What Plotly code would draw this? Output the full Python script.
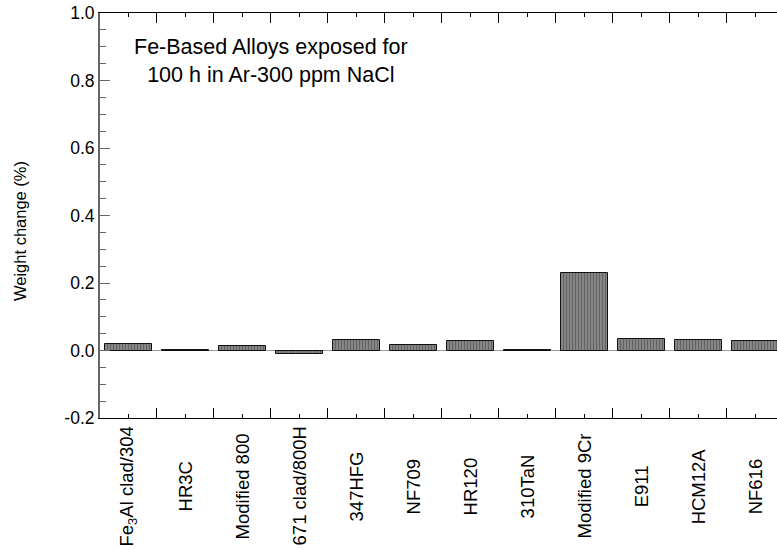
import plotly.graph_objects as go

alloys = ["Fe<sub>3</sub>Al clad/304", "HR3C", "Modified 800", "671 clad/800H", "347HFG",
          "NF709", "HR120", "310TaN", "Modified 9Cr", "E911", "HCM12A", "NF616"]
weight_change = [0.019, 0.002, 0.012, -0.010, 0.030, 0.017, 0.027, 0.001, 0.230, 0.033, 0.032, 0.028]
y_ticks = [-0.2, 0.0, 0.2, 0.4, 0.6, 0.8, 1.0]
y_ticktext = ["-0.2", "0.0", "0.2", "0.4", "0.6", "0.8", "1.0"]
y_title = "Weight change (%)"

xs = list(range(len(alloys)))
FONT = "Liberation Sans, Arial, sans-serif"

fig = go.Figure()
fig.add_trace(go.Bar(
    x=xs, y=weight_change, width=0.82,
    marker=dict(color="#7a7a7a",
                line=dict(color="#111111", width=1),
                pattern=dict(shape="|", bgcolor="#8c8c8c", fgcolor="#3a3a3a", size=3, solidity=0.45)),
    showlegend=False,
))

annotations = []
for i, name in enumerate(alloys):
    annotations.append(dict(x=i, y=0, xref="x", yref="paper", yshift=-68, text=name,
                            textangle=-90, showarrow=False, xanchor="center", yanchor="middle",
                            font=dict(family=FONT, size=18.5, color="black")))
annotations.append(dict(x=0.2526, y=0.882, xref="paper", yref="paper",
                        text="Fe-Based Alloys exposed for<br>100 h in Ar-300 ppm NaCl",
                        showarrow=False, align="center", xanchor="center", yanchor="middle",
                        font=dict(family=FONT, size=21.5, color="black")))
annotations.append(dict(x=-0.118, y=0.462, xref="paper", yref="paper", text=y_title,
                        textangle=-90, showarrow=False, xanchor="center", yanchor="middle",
                        font=dict(family=FONT, size=16.5, color="black")))

fig.update_layout(
    width=777, height=550,
    margin=dict(l=100, r=0, t=13, b=132, autoexpand=False),
    paper_bgcolor="white", plot_bgcolor="white",
    font=dict(family=FONT, color="black"),
    annotations=annotations,
    bargap=0,
)
fig.update_xaxes(
    range=[-0.5, 11.38], tickvals=xs, showticklabels=False,
    ticks="inside", ticklen=4, tickcolor="black", tickwidth=1,
    minor=dict(tick0=0.5, dtick=1, ticks="inside", ticklen=10, tickcolor="black", tickwidth=1),
    showline=True, linecolor="black", linewidth=1, mirror="ticks",
    showgrid=False, zeroline=False, automargin=False,
)
fig.update_yaxes(
    range=[-0.2, 1.0], tickvals=y_ticks, ticktext=y_ticktext,
    ticks="inside", ticklen=10, tickcolor="#666666", tickwidth=1,
    minor=dict(dtick=0.05, ticks="inside", ticklen=6, tickcolor="#666666", tickwidth=1),
    showline=True, linecolor="#666666", linewidth=2,
    showgrid=False, zeroline=True, zerolinecolor="#999999", zerolinewidth=1,
    tickfont=dict(family=FONT, size=17.5, color="black"),
    ticklabeloverflow="allow", automargin=False,
)

fig.write_html("out.html", config={"displayModeBar": False},
               post_script="document.body.style.margin='0';")
